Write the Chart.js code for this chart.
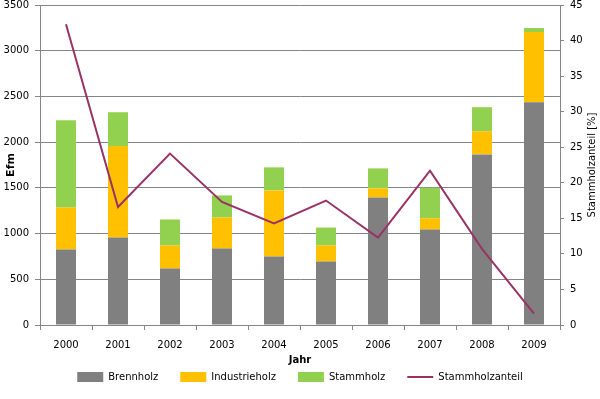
<!DOCTYPE html>
<html>
<head>
<meta charset="utf-8">
<script src="https://cdn.jsdelivr.net/npm/chart.js@4"></script>
<style>
  html, body { margin: 0; padding: 0; background: #fff; }
  #wrap { width: 600px; height: 399px; }
</style>
</head>
<body>
<div id="wrap"><canvas id="chart" width="600" height="399"></canvas></div>
<script>
// data
const years = ['2000', '2001', '2002', '2003', '2004', '2005', '2006', '2007', '2008', '2009'];
const brennholz = [825, 957, 617, 836, 749, 694, 1395, 1044, 1866, 2437];
const industrieholz = [461, 1000, 252, 340, 723, 175, 99, 124, 253, 767];
const stammholz = [953, 370, 285, 241, 252, 197, 219, 334, 263, 44];
const stammholzanteil = [42.3, 16.6, 24.1, 17.3, 14.3, 17.5, 12.3, 21.7, 10.7, 1.6];

const gridColor = '#868686';
const fontFam = '"DejaVu Sans", Verdana, sans-serif';

Chart.defaults.font.family = fontFam;
Chart.defaults.font.size = 10;
Chart.defaults.color = '#000';

// right axis title reads bottom-to-top in the original
const rightTitle = {
  id: 'rightTitle',
  afterDraw(chart) {
    const c = chart.ctx;
    const area = chart.chartArea;
    c.save();
    c.translate(592, (area.top + area.bottom) / 2);
    c.rotate(-Math.PI / 2);
    c.font = '10px ' + fontFam;
    c.fillStyle = '#000';
    c.textAlign = 'center';
    c.textBaseline = 'middle';
    c.fillText('Stammholzanteil [%]', 0, 0);
    c.restore();
  }
};

// vertical axes: fixed width, no extra room for half labels
function fitY(scale) {
  scale.width = 40;
  scale.paddingTop = 0;
  scale.paddingBottom = 0;
}

const ctx = document.getElementById('chart').getContext('2d');
new Chart(ctx, {
  data: {
    labels: years,
    datasets: [
      {
        type: 'line',
        label: 'Stammholzanteil',
        data: stammholzanteil,
        yAxisID: 'y1',
        borderColor: '#993366',
        backgroundColor: '#993366',
        borderWidth: 2,
        pointRadius: 0,
        pointStyle: 'line',
        tension: 0,
        order: 0
      },
      {
        type: 'bar',
        label: 'Brennholz',
        data: brennholz,
        backgroundColor: '#808080',
        stack: 's',
        order: 1
      },
      {
        type: 'bar',
        label: 'Industrieholz',
        data: industrieholz,
        backgroundColor: '#FFC000',
        stack: 's',
        order: 1
      },
      {
        type: 'bar',
        label: 'Stammholz',
        data: stammholz,
        backgroundColor: '#92D050',
        stack: 's',
        order: 1
      }
    ]
  },
  options: {
    responsive: false,
    animation: false,
    layout: { padding: { top: 5, left: 0, right: 0, bottom: 7 } },
    datasets: {
      bar: { barPercentage: 0.385, categoryPercentage: 1 }
    },
    plugins: {
      tooltip: { enabled: false },
      legend: {
        position: 'bottom',
        labels: {
          usePointStyle: true,
          pointStyleWidth: 26,
          boxHeight: 11,
          padding: 22,
          font: { size: 10 },
          sort: (a, b) => {
            const rank = { 'Brennholz': 0, 'Industrieholz': 1, 'Stammholz': 2, 'Stammholzanteil': 3 };
            return rank[a.text] - rank[b.text];
          },
          generateLabels(chart) {
            const items = Chart.defaults.plugins.legend.labels.generateLabels(chart);
            items.forEach(it => {
              if (it.text === 'Stammholzanteil') {
                it.lineWidth = 2;
                it.pointStyle = 'line';
              } else {
                it.lineWidth = 0;
                it.pointStyle = 'rect';
              }
            });
            return items;
          }
        }
      }
    },
    scales: {
      x: {
        stacked: true,
        grid: {
          offset: true,
          drawOnChartArea: false,
          color: gridColor,
          tickLength: 5
        },
        border: { color: gridColor },
        ticks: { padding: 9 },
        title: {
          display: true,
          text: 'Jahr',
          font: { size: 10, weight: 'bold' },
          padding: { top: 0, bottom: -16 }
        },
        afterFit(scale) { scale.height = 25; }
      },
      y: {
        stacked: true,
        position: 'left',
        min: 0,
        max: 3500,
        ticks: { stepSize: 500, padding: 6, format: { useGrouping: false } },
        grid: { color: gridColor, tickLength: 5 },
        border: { color: gridColor },
        title: {
          display: true,
          text: 'Efm',
          font: { size: 11, weight: 'bold' },
          padding: { top: 5, bottom: 0 }
        },
        afterFit: fitY
      },
      y1: {
        position: 'right',
        min: 0,
        max: 45,
        ticks: { stepSize: 5, padding: 6 },
        grid: { drawOnChartArea: false, color: gridColor, tickLength: 4 },
        border: { color: gridColor },
        afterFit: fitY
      }
    }
  },
  plugins: [rightTitle]
});
</script>
</body>
</html>
